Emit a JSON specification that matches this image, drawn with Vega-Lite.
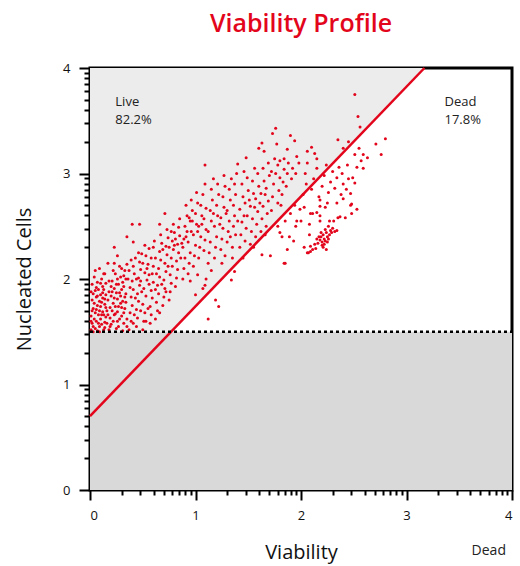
{
  "$schema": "https://vega.github.io/schema/vega-lite/v6.json",
  "width": 422,
  "height": 422,
  "autosize": {"type": "none"},
  "padding": {"left": 90, "top": 68, "right": 8, "bottom": 76},
  "title": {"text": "Viability Profile", "color": "#e3051b", "font": "Open Sans", "fontSize": 25, "fontWeight": 600, "anchor": "middle", "offset": 25},
  "config": {
    "view": {"stroke": "black", "strokeWidth": 3},
    "axis": {"domain": false, "grid": false, "tickColor": "black", "tickWidth": 2, "labelFont": "Open Sans", "labelFontSize": 13, "labelFontWeight": 500, "labelColor": "#111", "labelOverlap": false, "titleFont": "Open Sans", "titleFontSize": 20, "titleFontWeight": "normal", "titleColor": "#111"}
  },
  "encoding": {
    "x": {"field": "x", "type": "quantitative", "scale": {"domain": [0, 4], "nice": false, "zero": false},
      "axis": {"title": "Viability", "titlePadding": 20,
        "values": [0, 0.30103, 0.47712, 0.60206, 0.69897, 0.77815, 0.8451, 0.90309, 0.95424, 1, 1.30103, 1.47712, 1.60206, 1.69897, 1.77815, 1.8451, 1.90309, 1.95424, 2, 2.30103, 2.47712, 2.60206, 2.69897, 2.77815, 2.8451, 2.90309, 2.95424, 3, 3.30103, 3.47712, 3.60206, 3.69897, 3.77815, 3.8451, 3.90309, 3.95424, 4],
        "labelExpr": "abs(datum.value - round(datum.value)) < 0.001 ? format(datum.value, 'd') : ''",
        "tickSize": {"condition": {"test": "abs(datum.value - round(datum.value)) < 0.001", "value": 10}, "value": 5},
        "labelPadding": 9}},
    "y": {"field": "y", "type": "quantitative", "scale": {"domain": [0, 4], "nice": false, "zero": false},
      "axis": {"title": "Nucleated Cells", "titlePadding": 28,
        "values": [0, 0.30103, 0.47712, 0.60206, 0.69897, 0.77815, 0.8451, 0.90309, 0.95424, 1, 1.30103, 1.47712, 1.60206, 1.69897, 1.77815, 1.8451, 1.90309, 1.95424, 2, 2.30103, 2.47712, 2.60206, 2.69897, 2.77815, 2.8451, 2.90309, 2.95424, 3, 3.30103, 3.47712, 3.60206, 3.69897, 3.77815, 3.8451, 3.90309, 3.95424, 4],
        "labelExpr": "abs(datum.value - round(datum.value)) < 0.001 ? format(datum.value, 'd') : ''",
        "tickSize": {"condition": {"test": "abs(datum.value - round(datum.value)) < 0.001", "value": 11}, "value": 6},
        "labelPadding": 9}}
  },
  "layer": [
    {
      "data": {"values": [{"x": 0, "y": 0, "x2": 4, "y2": 1.5}]},
      "mark": {"type": "rect", "color": "#d9d9d9"},
      "encoding": {"x2": {"field": "x2"}, "y2": {"field": "y2"}}
    },
    {
      "data": {"values": [{"x": 0, "y": 1.5, "y2": 4}, {"x": 0.77, "y": 1.5, "y2": 4}, {"x": 3.17, "y": 4, "y2": 4}]},
      "mark": {"type": "area", "color": "#ececec", "opacity": 1},
      "encoding": {"y2": {"field": "y2"}}
    },
    {
      "data": {"values": [
        {"x":0.01,"y":1.52},{"x":0.02,"y":1.58},{"x":0.01,"y":1.65},{"x":0.03,"y":1.72},{"x":0.02,"y":1.8},{"x":0.01,"y":1.88},{"x":0.02,"y":1.95},{"x":0.04,"y":2.02},{"x":0.05,"y":1.53},{"x":0.06,"y":1.6},
        {"x":0.05,"y":1.68},{"x":0.07,"y":1.75},{"x":0.06,"y":1.83},{"x":0.08,"y":1.9},{"x":0.07,"y":1.97},{"x":0.09,"y":1.55},{"x":0.1,"y":1.62},{"x":0.09,"y":1.7},{"x":0.11,"y":1.78},{"x":0.1,"y":1.85},
        {"x":0.12,"y":1.93},{"x":0.11,"y":2.0},{"x":0.13,"y":1.52},{"x":0.14,"y":1.59},{"x":0.13,"y":1.66},{"x":0.15,"y":1.73},{"x":0.14,"y":1.81},{"x":0.12,"y":1.87},{"x":0.15,"y":1.96},{"x":0.13,"y":2.05},
        {"x":0.03,"y":1.55},{"x":0.04,"y":1.62},{"x":0.08,"y":1.66},{"x":0.04,"y":1.77},{"x":0.09,"y":1.79},{"x":0.03,"y":1.86},{"x":0.06,"y":1.92},{"x":0.11,"y":1.57},{"x":0.07,"y":1.51},{"x":0.12,"y":1.69},
        {"x":0.02,"y":1.7},{"x":0.14,"y":1.76},{"x":0.1,"y":1.74},{"x":0.06,"y":1.71},{"x":0.15,"y":1.64},{"x":0.08,"y":1.58},{"x":0.12,"y":1.82},{"x":0.05,"y":1.89},{"x":0.1,"y":1.96},{"x":0.01,"y":1.6},
        {"x":0.14,"y":1.54},{"x":0.09,"y":1.5},{"x":0.03,"y":1.5},{"x":0.15,"y":1.85},{"x":0.07,"y":1.84},{"x":0.11,"y":1.66},{"x":0.13,"y":1.9},{"x":0.16,"y":1.7},{"x":0.16,"y":1.58},{"x":0.17,"y":1.8},
        {"x":0.18,"y":1.52},{"x":0.2,"y":1.57},{"x":0.19,"y":1.63},{"x":0.21,"y":1.7},{"x":0.22,"y":1.77},{"x":0.2,"y":1.84},{"x":0.23,"y":1.91},{"x":0.21,"y":1.98},{"x":0.24,"y":2.05},{"x":0.25,"y":1.53},
        {"x":0.26,"y":1.6},{"x":0.24,"y":1.67},{"x":0.27,"y":1.74},{"x":0.26,"y":1.81},{"x":0.28,"y":1.87},{"x":0.27,"y":1.95},{"x":0.29,"y":2.02},{"x":0.3,"y":2.1},{"x":0.31,"y":1.51},{"x":0.32,"y":1.58},
        {"x":0.3,"y":1.65},{"x":0.33,"y":1.72},{"x":0.31,"y":1.79},{"x":0.34,"y":1.86},{"x":0.32,"y":1.93},{"x":0.34,"y":2.0},{"x":0.33,"y":2.08},{"x":0.35,"y":2.14},{"x":0.19,"y":1.73},{"x":0.22,"y":1.6},
        {"x":0.18,"y":1.88},{"x":0.23,"y":1.82},{"x":0.25,"y":1.95},{"x":0.28,"y":1.62},{"x":0.29,"y":1.77},{"x":0.3,"y":1.9},{"x":0.27,"y":1.55},{"x":0.2,"y":1.93},{"x":0.24,"y":1.74},{"x":0.32,"y":1.68},
        {"x":0.35,"y":1.55},{"x":0.35,"y":1.62},{"x":0.34,"y":1.78},{"x":0.26,"y":2.0},{"x":0.22,"y":2.08},{"x":0.18,"y":1.98},{"x":0.28,"y":2.12},{"x":0.31,"y":1.97},{"x":0.19,"y":1.55},{"x":0.23,"y":1.66},
        {"x":0.26,"y":1.69},{"x":0.29,"y":1.84},{"x":0.33,"y":1.83},{"x":0.21,"y":1.88},{"x":0.17,"y":1.66},{"x":0.25,"y":1.87},{"x":0.3,"y":1.73},{"x":0.32,"y":2.03},{"x":0.23,"y":2.15},{"x":0.14,"y":2.05},
        {"x":0.23,"y":2.3},{"x":0.35,"y":2.4},{"x":0.41,"y":2.35},{"x":0.4,"y":2.52},{"x":0.47,"y":2.52},{"x":0.66,"y":2.52},{"x":0.71,"y":2.62},{"x":0.26,"y":2.22},{"x":0.09,"y":2.1},{"x":0.17,"y":2.15},{"x":0.05,"y":2.08},
        {"x":0.37,"y":1.52},{"x":0.39,"y":1.6},{"x":0.38,"y":1.68},{"x":0.4,"y":1.75},{"x":0.39,"y":1.83},{"x":0.41,"y":1.9},{"x":0.4,"y":1.98},{"x":0.42,"y":2.05},{"x":0.41,"y":2.12},{"x":0.43,"y":2.2},
        {"x":0.44,"y":1.55},{"x":0.45,"y":1.63},{"x":0.44,"y":1.71},{"x":0.46,"y":1.79},{"x":0.45,"y":1.86},{"x":0.47,"y":1.94},{"x":0.46,"y":2.01},{"x":0.48,"y":2.09},{"x":0.47,"y":2.16},{"x":0.49,"y":2.24},
        {"x":0.5,"y":1.52},{"x":0.51,"y":1.6},{"x":0.52,"y":1.68},{"x":0.5,"y":1.76},{"x":0.53,"y":1.84},{"x":0.51,"y":1.91},{"x":0.54,"y":1.99},{"x":0.52,"y":2.06},{"x":0.55,"y":2.14},{"x":0.53,"y":2.22},
        {"x":0.56,"y":2.29},{"x":0.57,"y":1.58},{"x":0.58,"y":1.66},{"x":0.57,"y":1.74},{"x":0.59,"y":1.82},{"x":0.58,"y":1.89},{"x":0.6,"y":1.97},{"x":0.59,"y":2.05},{"x":0.6,"y":2.12},{"x":0.58,"y":2.2},
        {"x":0.6,"y":2.3},{"x":0.38,"y":1.92},{"x":0.42,"y":1.66},{"x":0.43,"y":1.82},{"x":0.48,"y":1.7},{"x":0.49,"y":1.88},{"x":0.55,"y":1.72},{"x":0.56,"y":1.95},{"x":0.36,"y":2.0},{"x":0.37,"y":2.08},
        {"x":0.44,"y":2.0},{"x":0.5,"y":2.15},{"x":0.54,"y":2.1},{"x":0.46,"y":2.25},{"x":0.39,"y":2.18},{"x":0.52,"y":2.32},{"x":0.56,"y":2.04},{"x":0.48,"y":1.98},{"x":0.41,"y":1.58},{"x":0.53,"y":1.6},
        {"x":0.62,"y":1.62},{"x":0.64,"y":1.7},{"x":0.63,"y":1.78},{"x":0.65,"y":1.86},{"x":0.64,"y":1.94},{"x":0.66,"y":2.02},{"x":0.65,"y":2.1},{"x":0.67,"y":2.18},{"x":0.66,"y":2.26},{"x":0.68,"y":2.34},
        {"x":0.67,"y":2.42},{"x":0.69,"y":1.75},{"x":0.7,"y":1.83},{"x":0.71,"y":1.91},{"x":0.7,"y":1.99},{"x":0.72,"y":2.07},{"x":0.71,"y":2.15},{"x":0.73,"y":2.23},{"x":0.72,"y":2.31},{"x":0.74,"y":2.39},
        {"x":0.73,"y":2.47},{"x":0.75,"y":1.8},{"x":0.76,"y":1.88},{"x":0.77,"y":1.96},{"x":0.76,"y":2.04},{"x":0.78,"y":2.12},{"x":0.77,"y":2.2},{"x":0.79,"y":2.28},{"x":0.78,"y":2.36},{"x":0.8,"y":2.44},
        {"x":0.79,"y":2.52},{"x":0.81,"y":1.93},{"x":0.82,"y":2.01},{"x":0.83,"y":2.09},{"x":0.82,"y":2.17},{"x":0.84,"y":2.25},{"x":0.83,"y":2.33},{"x":0.85,"y":2.41},{"x":0.84,"y":2.49},{"x":0.85,"y":2.57},
        {"x":0.62,"y":2.2},{"x":0.68,"y":1.95},{"x":0.74,"y":2.12},{"x":0.8,"y":2.32},{"x":0.63,"y":2.05},{"x":0.69,"y":2.28},{"x":0.75,"y":2.3},{"x":0.81,"y":2.38},{"x":0.77,"y":2.45},{"x":0.66,"y":1.68},
        {"x":0.72,"y":1.88},{"x":0.62,"y":1.9},{"x":0.86,"y":2.2},{"x":0.87,"y":2.34},{"x":0.61,"y":2.36},
        {"x":0.88,"y":2.0},{"x":0.89,"y":2.1},{"x":0.9,"y":2.2},{"x":0.88,"y":2.3},{"x":0.91,"y":2.4},{"x":0.9,"y":2.5},{"x":0.92,"y":2.6},{"x":0.91,"y":2.7},{"x":0.93,"y":2.05},{"x":0.94,"y":2.15},
        {"x":0.95,"y":2.25},{"x":0.93,"y":2.35},{"x":0.96,"y":2.45},{"x":0.95,"y":2.55},{"x":0.97,"y":2.65},{"x":0.96,"y":2.75},{"x":0.98,"y":2.12},{"x":0.99,"y":2.22},{"x":1.0,"y":2.32},{"x":0.98,"y":2.42},
        {"x":1.01,"y":2.52},{"x":1.0,"y":2.62},{"x":1.02,"y":2.72},{"x":1.01,"y":2.82},{"x":1.03,"y":2.2},{"x":1.04,"y":2.3},{"x":1.05,"y":2.4},{"x":1.03,"y":2.5},{"x":1.06,"y":2.6},{"x":1.05,"y":2.7},
        {"x":1.07,"y":2.8},{"x":1.08,"y":2.27},{"x":1.09,"y":2.37},{"x":1.1,"y":2.47},{"x":1.08,"y":2.57},{"x":1.1,"y":2.67},{"x":1.09,"y":2.9},{"x":1.09,"y":3.08},{"x":0.92,"y":2.45},{"x":0.97,"y":2.55},
        {"x":1.02,"y":2.45},{"x":1.06,"y":2.52},{"x":0.89,"y":2.38},{"x":0.94,"y":2.58},{"x":1.0,"y":1.85},{"x":1.07,"y":1.91},{"x":1.09,"y":1.94},{"x":1.1,"y":2.0},{"x":1.02,"y":2.04},{"x":0.95,"y":1.98},
        {"x":1.12,"y":1.62},{"x":1.19,"y":1.8},{"x":1.22,"y":1.74},{"x":1.34,"y":1.99},{"x":1.37,"y":2.07},{"x":1.63,"y":2.23},{"x":1.71,"y":2.22},{"x":1.85,"y":2.15},
        {"x":1.12,"y":2.15},{"x":1.13,"y":2.25},{"x":1.14,"y":2.35},{"x":1.12,"y":2.45},{"x":1.15,"y":2.55},{"x":1.14,"y":2.65},{"x":1.16,"y":2.75},{"x":1.15,"y":2.85},{"x":1.17,"y":2.95},{"x":1.18,"y":2.2},
        {"x":1.19,"y":2.3},{"x":1.2,"y":2.4},{"x":1.18,"y":2.5},{"x":1.21,"y":2.6},{"x":1.2,"y":2.7},{"x":1.22,"y":2.8},{"x":1.21,"y":2.9},{"x":1.24,"y":2.28},{"x":1.25,"y":2.38},{"x":1.26,"y":2.48},
        {"x":1.24,"y":2.58},{"x":1.27,"y":2.68},{"x":1.26,"y":2.78},{"x":1.28,"y":2.88},{"x":1.27,"y":2.98},{"x":1.3,"y":2.35},{"x":1.31,"y":2.45},{"x":1.32,"y":2.55},{"x":1.3,"y":2.65},{"x":1.33,"y":2.75},
        {"x":1.32,"y":2.85},{"x":1.34,"y":2.95},{"x":1.35,"y":2.3},{"x":1.36,"y":2.5},{"x":1.37,"y":2.6},{"x":1.36,"y":2.7},{"x":1.38,"y":2.8},{"x":1.37,"y":2.9},{"x":1.39,"y":3.0},{"x":1.4,"y":2.55},
        {"x":1.4,"y":3.09},{"x":1.23,"y":2.52},{"x":1.29,"y":2.62},{"x":1.17,"y":2.62},{"x":1.33,"y":2.4},{"x":1.25,"y":2.15},{"x":1.38,"y":2.42},{"x":1.15,"y":2.08},{"x":1.28,"y":2.22},{"x":1.35,"y":2.2},
        {"x":1.42,"y":2.3},{"x":1.43,"y":2.42},{"x":1.44,"y":2.54},{"x":1.42,"y":2.66},{"x":1.45,"y":2.78},{"x":1.44,"y":2.9},{"x":1.46,"y":3.02},{"x":1.48,"y":3.15},{"x":1.47,"y":2.36},{"x":1.48,"y":2.48},
        {"x":1.49,"y":2.6},{"x":1.47,"y":2.72},{"x":1.5,"y":2.84},{"x":1.49,"y":2.96},{"x":1.52,"y":2.33},{"x":1.53,"y":2.45},{"x":1.54,"y":2.57},{"x":1.52,"y":2.69},{"x":1.55,"y":2.81},{"x":1.54,"y":2.93},
        {"x":1.56,"y":3.05},{"x":1.57,"y":2.4},{"x":1.58,"y":2.52},{"x":1.59,"y":2.64},{"x":1.57,"y":2.76},{"x":1.6,"y":2.88},{"x":1.59,"y":3.0},{"x":1.6,"y":3.24},{"x":1.62,"y":2.45},{"x":1.63,"y":2.57},
        {"x":1.64,"y":2.69},{"x":1.62,"y":2.81},{"x":1.65,"y":2.93},{"x":1.64,"y":3.05},{"x":1.65,"y":3.21},{"x":1.63,"y":3.29},{"x":1.67,"y":2.5},{"x":1.68,"y":2.62},{"x":1.69,"y":2.74},{"x":1.67,"y":2.86},
        {"x":1.7,"y":2.98},{"x":1.69,"y":3.1},{"x":1.46,"y":2.6},{"x":1.51,"y":2.75},{"x":1.56,"y":2.68},{"x":1.61,"y":2.72},{"x":1.66,"y":2.8},{"x":1.45,"y":2.2},{"x":1.55,"y":2.3},{"x":1.66,"y":2.42},
        {"x":1.72,"y":2.65},{"x":1.73,"y":2.78},{"x":1.74,"y":2.9},{"x":1.72,"y":3.02},{"x":1.75,"y":3.14},{"x":1.73,"y":3.38},{"x":1.76,"y":3.43},{"x":1.77,"y":3.28},{"x":1.78,"y":2.72},{"x":1.79,"y":2.84},
        {"x":1.8,"y":2.96},{"x":1.78,"y":3.08},{"x":1.8,"y":3.12},{"x":1.82,"y":2.8},{"x":1.83,"y":2.92},{"x":1.84,"y":3.04},{"x":1.84,"y":3.14},{"x":1.86,"y":2.88},{"x":1.87,"y":3.0},{"x":1.87,"y":3.23},
        {"x":1.88,"y":3.1},{"x":1.9,"y":3.36},{"x":1.91,"y":2.95},{"x":1.92,"y":3.05},{"x":1.94,"y":3.31},{"x":1.96,"y":3.16},{"x":1.95,"y":3.0},{"x":1.98,"y":3.1},{"x":1.76,"y":3.0},{"x":1.81,"y":2.7},
        {"x":1.8,"y":2.44},{"x":1.82,"y":2.4},{"x":1.87,"y":2.28},{"x":1.89,"y":2.4},{"x":1.84,"y":2.15},{"x":1.96,"y":2.55},{"x":1.95,"y":2.5},{"x":1.78,"y":2.5},{"x":1.85,"y":2.55},{"x":1.9,"y":2.62},
        {"x":1.94,"y":2.7},{"x":1.99,"y":2.66},{"x":1.93,"y":2.36},
        {"x":2.0,"y":2.55},{"x":2.03,"y":2.68},{"x":2.08,"y":2.52},{"x":2.08,"y":2.42},{"x":2.03,"y":2.3},{"x":2.09,"y":2.31},{"x":2.11,"y":2.62},{"x":2.15,"y":2.63},{"x":2.18,"y":2.6},{"x":2.18,"y":2.55},
        {"x":2.18,"y":2.69},{"x":2.23,"y":2.68},{"x":2.09,"y":2.62},{"x":2.31,"y":2.55},{"x":2.35,"y":2.58},{"x":2.32,"y":2.45},{"x":2.34,"y":2.72},{"x":2.07,"y":2.25},{"x":2.09,"y":2.26},{"x":2.14,"y":2.29},
        {"x":2.06,"y":2.25},{"x":2.11,"y":2.28},{"x":2.34,"y":2.46},{"x":2.37,"y":2.59},{"x":2.42,"y":2.58},{"x":2.48,"y":2.62},{"x":2.53,"y":2.66},{"x":2.48,"y":2.71},{"x":2.4,"y":2.76},{"x":2.27,"y":2.55},
        {"x":2.16,"y":2.34},{"x":2.18,"y":2.37},{"x":2.2,"y":2.35},{"x":2.22,"y":2.38},{"x":2.19,"y":2.4},{"x":2.21,"y":2.42},{"x":2.23,"y":2.36},{"x":2.25,"y":2.4},{"x":2.24,"y":2.44},{"x":2.26,"y":2.38},
        {"x":2.2,"y":2.32},{"x":2.17,"y":2.4},{"x":2.22,"y":2.33},{"x":2.27,"y":2.42},{"x":2.28,"y":2.46},{"x":2.23,"y":2.47},{"x":2.19,"y":2.44},{"x":2.15,"y":2.38},{"x":2.25,"y":2.35},{"x":2.29,"y":2.44},
        {"x":2.21,"y":2.3},{"x":2.13,"y":2.33},{"x":2.26,"y":2.5},{"x":2.3,"y":2.48},{"x":2.24,"y":2.28},
        {"x":2.02,"y":2.8},{"x":2.05,"y":2.9},{"x":2.04,"y":3.0},{"x":2.06,"y":3.1},{"x":2.06,"y":3.21},{"x":2.1,"y":3.25},{"x":2.13,"y":3.19},{"x":2.15,"y":3.14},{"x":2.1,"y":2.85},{"x":2.12,"y":2.95},
        {"x":2.15,"y":3.05},{"x":2.17,"y":2.78},{"x":2.2,"y":2.88},{"x":2.22,"y":2.98},{"x":2.24,"y":3.08},{"x":2.26,"y":2.82},{"x":2.28,"y":2.92},{"x":2.3,"y":3.02},{"x":2.32,"y":2.86},{"x":2.34,"y":2.96},
        {"x":2.36,"y":3.06},{"x":2.39,"y":3.0},{"x":2.4,"y":2.9},{"x":2.43,"y":2.85},{"x":2.45,"y":2.95},{"x":2.47,"y":2.81},{"x":2.49,"y":2.96},{"x":2.51,"y":2.91},{"x":2.53,"y":3.06},{"x":2.59,"y":3.05},
        {"x":2.18,"y":2.75},{"x":2.25,"y":2.72},{"x":2.38,"y":2.8},{"x":2.44,"y":3.08},{"x":2.47,"y":2.7},
        {"x":2.51,"y":3.75},{"x":2.54,"y":3.54},{"x":2.56,"y":3.44},{"x":2.35,"y":3.32},{"x":2.8,"y":3.33},{"x":2.71,"y":3.28},{"x":2.76,"y":3.18},{"x":2.55,"y":3.24},{"x":2.59,"y":3.18},{"x":2.63,"y":3.15},
        {"x":2.51,"y":3.18},{"x":2.57,"y":3.12},{"x":2.4,"y":3.24},{"x":2.45,"y":3.3}
      ]},
      "mark": {"type": "circle", "color": "#e3051b", "size": 9, "opacity": 1}
    },
    {
      "data": {"values": [{"x": 0, "y": 0.7}, {"x": 3.17, "y": 4}]},
      "mark": {"type": "line", "color": "#e3051b", "strokeWidth": 2.5}
    },
    {
      "data": {"values": [{"x": 0, "y": 1.5, "x2": 4}]},
      "mark": {"type": "rule", "color": "black", "strokeWidth": 2.5, "strokeDash": [3, 3]},
      "encoding": {"x2": {"field": "x2"}}
    },
    {
      "data": {"values": [{"x": 0.24, "y": 3.68, "label": "Live"}, {"x": 0.24, "y": 3.51, "label": "82.2%"}, {"x": 3.36, "y": 3.68, "label": "Dead"}, {"x": 3.36, "y": 3.51, "label": "17.8%"}]},
      "mark": {"type": "text", "align": "left", "baseline": "middle", "font": "Open Sans", "fontSize": 13, "color": "#222"},
      "encoding": {"text": {"field": "label"}}
    },
    {
      "data": {"values": [{"x": 3.78, "y": -0.58, "label": "Dead"}]},
      "mark": {"type": "text", "align": "center", "baseline": "middle", "font": "Open Sans", "fontSize": 14, "color": "#222"},
      "encoding": {"text": {"field": "label"}}
    }
  ]
}
